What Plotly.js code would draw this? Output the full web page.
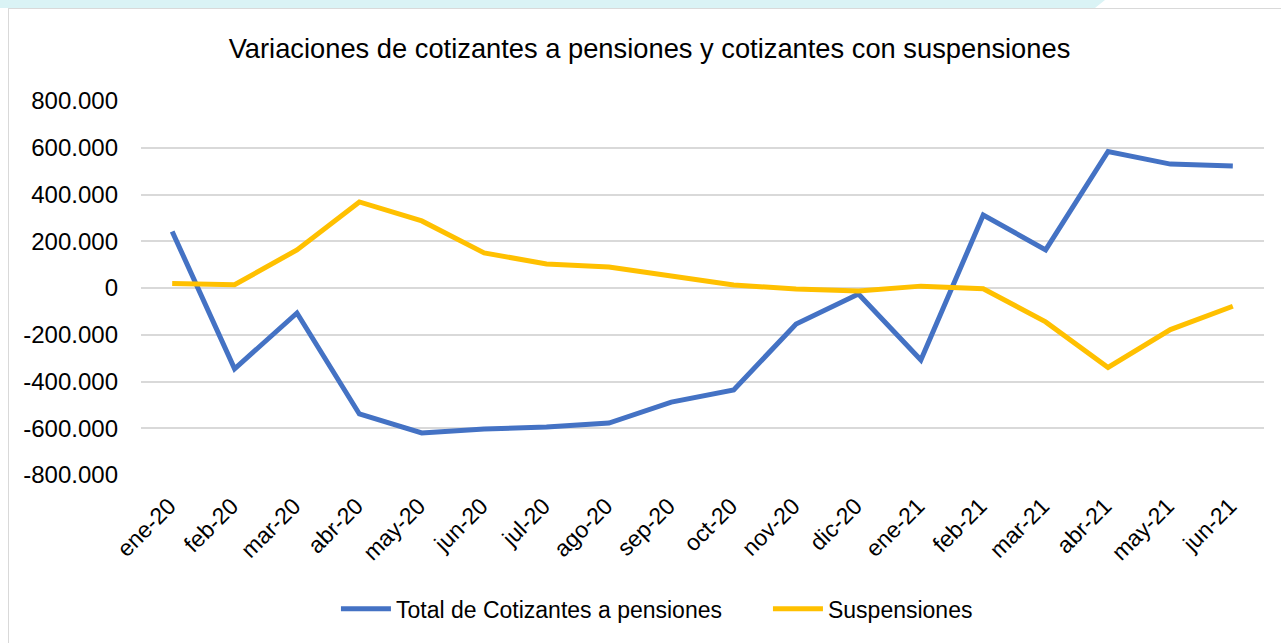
<!DOCTYPE html>
<html>
<head>
<meta charset="utf-8">
<script src="https://cdn.plot.ly/plotly-3.0.1.min.js"></script>
<style>
  html, body { margin: 0; padding: 0; background: #ffffff; }
  body { width: 1281px; height: 643px; position: relative; overflow: hidden; }
  #strip { position: absolute; left: 0; top: 0; width: 1095px; height: 8px; background: #DAF3F5; }
  #strip:after { content: ""; position: absolute; right: -10px; top: 0; width: 0; height: 0;
    border-top: 8px solid #DAF3F5; border-right: 10px solid transparent; }
  #frame { position: absolute; left: 8px; top: 8px; width: 1290px; height: 660px; border: 1px solid #D9D9D9; box-sizing: border-box; }
  #chart { position: absolute; left: 0; top: 0; width: 1281px; height: 643px; }
</style>
</head>
<body>
<div id="strip"></div>
<div id="frame"></div>
<div id="chart"></div>
<script>
const categories = ["ene-20","feb-20","mar-20","abr-20","may-20","jun-20","jul-20","ago-20","sep-20","oct-20","nov-20","dic-20","ene-21","feb-21","mar-21","abr-21","may-21","jun-21"];
const totalCotizantes = [242000,-346000,-107000,-539000,-620000,-603000,-595000,-578000,-488000,-436000,-154000,-26000,-308000,312000,163000,584000,530000,522000];
const suspensiones = [19000,14000,163000,368000,287000,150000,103000,90000,51000,13000,-4000,-13000,8000,-3000,-145000,-340000,-178000,-78000];
const yTickVals = [-800000,-600000,-400000,-200000,0,200000,400000,600000,800000];
const yTickText = ["-800.000","-600.000","-400.000","-200.000","0","200.000","400.000","600.000","800.000"];

const font = "Liberation Sans, Arial, sans-serif";
const traces = [
  { x: categories, y: totalCotizantes, type: "scatter", mode: "lines", name: "Total de Cotizantes a pensiones",
    line: { color: "#4472C4", width: 5 } },
  { x: categories, y: suspensiones, type: "scatter", mode: "lines", name: "Suspensiones",
    line: { color: "#FFC000", width: 5 } }
];
const layout = {
  width: 1281, height: 643,
  paper_bgcolor: "rgba(0,0,0,0)", plot_bgcolor: "rgba(0,0,0,0)",
  margin: { l: 141, r: 17, t: 101, b: 168 },
  font: { family: font, color: "#000000", size: 22 },
  title: { text: "Variaciones de cotizantes a pensiones y cotizantes con suspensiones",
    font: { family: font, size: 27.3, color: "#000000" }, x: 0.507, xanchor: "center", y: 0.925, yanchor: "middle" },
  xaxis: { type: "category", range: [-0.5, categories.length - 0.5], tickangle: -45, tickfont: { size: 23 },
    showgrid: false, zeroline: false, showline: false, ticks: "", automargin: false,
    ticklabelstandoff: 12, ticklabelshift: -3 },
  yaxis: { range: [-800000, 800000], tickmode: "array", tickvals: yTickVals, ticktext: yTickText, tickfont: { size: 24 },
    showgrid: true, gridcolor: "#D9D9D9", gridwidth: 2, zeroline: false, showline: false, ticks: "",
    ticklabelstandoff: 22, automargin: false },
  showlegend: true,
  legend: { orientation: "h", x: 0.1736, xanchor: "left", y: -0.358, yanchor: "middle",
    font: { size: 23 }, itemwidth: 50, entrywidth: 367, entrywidthmode: "pixels" },
  hovermode: false
};
Plotly.newPlot("chart", traces, layout, { displayModeBar: false, staticPlot: true });
</script>
</body>
</html>
